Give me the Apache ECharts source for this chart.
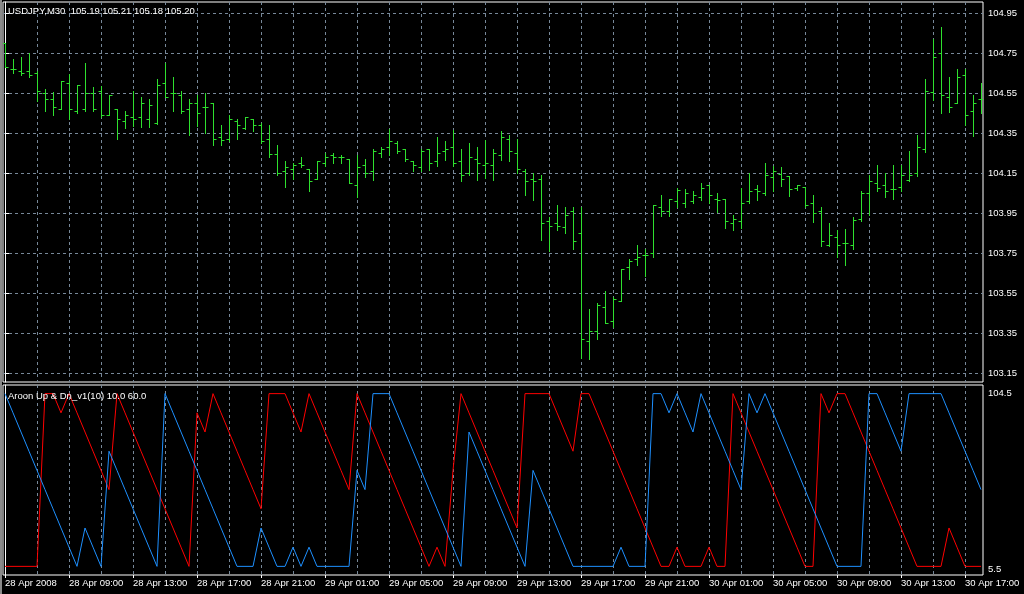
<!DOCTYPE html>
<html>
<head>
<meta charset="utf-8">
<script src="https://cdn.jsdelivr.net/npm/echarts@6/dist/echarts.min.js"></script>
<style>
html,body{margin:0;padding:0;background:#000;}
#c{width:1024px;height:594px;}
</style>
</head>
<body>
<div id="c"></div>
<script>
// ---- Data (USDJPY M30, 28 Apr 2008 05:00 onward, 123 bars) ----
var barOpen = [104.80,104.67,104.66,104.66,104.65,104.55,104.52,104.47,104.60,104.46,104.47,104.55,104.56,104.44,104.47,104.41,104.43,104.43,104.42,104.40,
104.60,104.55,104.54,104.47,104.50,104.48,104.50,104.33,104.32,104.41,104.375,104.42,104.39,104.32,104.245,104.16,104.17,104.20,104.17,104.12,
104.20,104.24,104.23,104.22,104.09,104.19,104.16,104.25,104.28,104.30,104.27,104.21,104.18,104.27,104.21,104.26,104.28,104.21,104.15,104.22,
104.19,104.19,104.24,104.32,104.25,104.16,104.12,104.12,103.91,103.90,103.88,103.96,103.85,103.31,103.36,103.48,103.41,103.51,103.68,103.72,
103.74,103.75,103.98,103.96,104.01,104.00,104.01,104.03,104.09,104.02,104.02,103.90,103.91,104.01,104.07,104.05,104.13,104.145,104.135,104.075,
104.08,104.00,103.96,103.79,103.83,103.80,103.79,103.92,104.05,104.10,104.09,104.07,104.08,104.115,104.15,104.27,104.555,104.75,104.53,104.50,
104.64,104.46,104.52];
var barHigh = [104.80,104.72,104.73,104.75,104.66,104.57,104.555,104.61,104.645,104.59,104.70,104.58,104.585,104.54,104.47,104.46,104.56,104.53,104.52,104.62,
104.70,104.63,104.56,104.52,104.54,104.55,104.50,104.39,104.44,104.42,104.43,104.42,104.40,104.39,104.29,104.21,104.20,104.23,104.17,104.21,
104.25,104.25,104.24,104.22,104.24,104.22,104.27,104.28,104.37,104.31,104.27,104.21,104.27,104.27,104.33,104.31,104.365,104.27,104.30,104.28,
104.315,104.27,104.36,104.34,104.32,104.17,104.15,104.14,103.93,103.99,103.98,103.98,103.98,103.47,103.50,103.56,103.53,103.67,103.72,103.79,
103.77,103.99,104.04,104.02,104.075,104.07,104.06,104.10,104.09,104.05,104.02,103.94,104.075,104.15,104.09,104.20,104.185,104.18,104.135,104.09,
104.08,104.04,103.98,103.90,103.865,103.87,103.93,104.06,104.14,104.19,104.15,104.19,104.19,104.26,104.34,104.62,104.82,104.88,104.63,104.67,
104.67,104.54,104.60];
var barLow = [104.68,104.65,104.64,104.63,104.51,104.46,104.44,104.47,104.42,104.45,104.46,104.46,104.43,104.44,104.32,104.375,104.385,104.38,104.38,104.395,
104.53,104.46,104.45,104.34,104.385,104.35,104.29,104.29,104.31,104.32,104.37,104.36,104.30,104.23,104.14,104.08,104.12,104.18,104.06,104.12,
104.185,104.20,104.20,104.10,104.03,104.13,104.115,104.23,104.24,104.25,104.21,104.16,104.16,104.165,104.185,104.215,104.185,104.11,104.14,104.115,
104.125,104.115,104.215,104.21,104.15,104.04,104.015,103.815,103.76,103.865,103.85,103.77,103.225,103.22,103.32,103.40,103.38,103.51,103.62,103.69,
103.635,103.73,103.935,103.935,103.98,103.98,104.00,104.015,104.00,103.955,103.875,103.865,103.875,104.00,104.015,104.04,104.06,104.085,104.035,104.065,
103.98,103.905,103.785,103.785,103.73,103.69,103.77,103.91,103.94,104.06,104.03,104.02,104.06,104.11,104.135,104.255,104.515,104.45,104.455,104.50,
104.39,104.335,104.45];
var barClose = [104.68,104.67,104.65,104.64,104.56,104.52,104.48,104.61,104.47,104.59,104.55,104.47,104.44,104.54,104.42,104.44,104.42,104.50,104.49,104.59,
104.53,104.55,104.46,104.50,104.45,104.48,104.32,104.315,104.42,104.39,104.43,104.39,104.31,104.245,104.15,104.18,104.19,104.19,104.11,104.21,
104.23,104.23,104.23,104.10,104.18,104.15,104.26,104.27,104.31,104.26,104.22,104.19,104.26,104.20,104.25,104.27,104.20,104.14,104.23,104.20,
104.20,104.25,104.33,104.26,104.17,104.11,104.11,103.90,103.885,103.885,103.94,103.81,103.32,103.36,103.49,103.40,103.52,103.67,103.71,103.73,
103.74,103.99,103.96,104.02,104.065,104.05,104.04,104.075,104.04,104.015,103.91,103.92,104.00,104.06,104.06,104.14,104.16,104.12,104.07,104.09,
103.99,103.95,103.81,103.84,103.79,103.80,103.915,104.05,104.11,104.075,104.06,104.07,104.14,104.14,104.28,104.56,104.73,104.54,104.48,104.63,
104.44,104.50,104.52];

// Aroon(10): Up (blue) and Down (red)
var aroonUp = [100,90,80,70,60,50,40,30,20,10, 30,20,10,70,60,50,40,30,20,10,
100,90,80,70,60,50,40,30,20,10, 10,10,30,20,10,10,20,10,20,10,
10,10,10,10,60,50,100,100,100,90, 80,70,60,50,40,30,20,10,80,70,
60,50,40,30,20,10,60,50,40,30, 20,10,10,10,10,10,10,20,10,10,
10,100,100,90,100,90,80,100,90,80, 70,60,50,100,90,100,90,80,70,60,
50,40,30,20,10,10,10,10,100,100, 90,80,70,100,100,100,100,100,90,80,
70,60,50];
var aroonDown = [10,10,10,10,10,100,100,90,100,90, 80,70,60,50,100,90,80,70,60,50,
40,30,20,10,90,80,100,90,80,70, 60,50,40,100,100,100,90,80,100,90,
80,70,60,50,100,90,80,70,60,50, 40,30,20,10,20,10,60,100,90,80,
70,60,50,40,30,100,100,100,100,90, 80,70,100,100,90,80,70,60,50,40,
30,20,10,10,20,10,10,10,20,10, 10,100,90,80,70,60,50,40,30,20,
10,10,100,90,100,100,90,80,70,60, 50,40,30,20,10,10,10,10,30,20,
10,10,10];

// time axis labels (bar index -> label)
var timeTickBars = [0,8,16,24,32,40,48,56,64,72,80,88,96,104,112,120];
var timeTickLabels = ["28 Apr 2008","28 Apr 09:00","28 Apr 13:00","28 Apr 17:00","28 Apr 21:00",
"29 Apr 01:00","29 Apr 05:00","29 Apr 09:00","29 Apr 13:00","29 Apr 17:00","29 Apr 21:00",
"30 Apr 01:00","30 Apr 05:00","30 Apr 09:00","30 Apr 13:00","30 Apr 17:00"];
var gridBars = [4,8,12,16,20,24,28,32,36,40,44,48,52,56,60,64,68,72,76,80,84,88,92,96,100,104,108,112,116,120];
var priceTicks = [103.15,103.35,103.55,103.75,103.95,104.15,104.35,104.55,104.75,104.95];
var aroonTicks = [5.5,104.5];

var chartTitle = "USDJPY,M30  105.19 105.21 105.18 105.20";
var indTitle = "Aroon Up & Dn_v1(10) 10.0 60.0";

// ---- build ----
var ohlc = [];
for (var i = 0; i < barOpen.length; i++) ohlc.push([i, barOpen[i], barHigh[i], barLow[i], barClose[i]]);
var upData = aroonUp.map(function(v,i){return [i,v];});
var dnData = aroonDown.map(function(v,i){return [i,v];});

var FONT = '"Liberation Sans", Arial, sans-serif';
var GRIDC = '#778899';
var BARC = '#2ee02e';

var chart = echarts.init(document.getElementById('c'), null, {renderer:'canvas'});
chart.setOption({
  backgroundColor:'#000',
  animation:false,
  textStyle:{fontFamily:FONT},
  graphic:[
    {type:'rect', left:0, top:0, shape:{width:2, height:594}, style:{fill:'#8a8a8a'}, silent:true}
  ],
  title:[
    {text:chartTitle, left:8, top:6, padding:0, textStyle:{color:'#fff', fontSize:9.5, fontWeight:'normal', fontFamily:FONT}},
    {text:indTitle, left:8, top:391, padding:0, textStyle:{color:'#fff', fontSize:9.5, fontWeight:'normal', fontFamily:FONT}}
  ],
  grid:[
    {left:3, right:41, top:2, height:380, show:true, borderColor:'#fff', borderWidth:1, backgroundColor:'#000'},
    {left:3, right:41, top:385, height:190, show:true, borderColor:'#fff', borderWidth:1, backgroundColor:'#000'}
  ],
  xAxis:[
    {type:'value', gridIndex:0, min:-0.25, max:122.25,
     axisLine:{show:false}, axisLabel:{show:false},
     axisTick:{show:false, customValues:gridBars},
     splitLine:{show:true, lineStyle:{color:GRIDC, type:[3,3], width:1}}},
    {type:'value', gridIndex:1, min:-0.25, max:122.25,
     axisLine:{show:false}, axisLabel:{show:false},
     axisTick:{show:false, customValues:gridBars},
     splitLine:{show:true, lineStyle:{color:GRIDC, type:[3,3], width:1}}},
    {type:'value', gridIndex:1, min:-0.25, max:122.25, position:'bottom',
     axisLine:{show:false},
     axisTick:{show:true, inside:false, length:3, lineStyle:{color:'#fff'}, customValues:timeTickBars},
     axisLabel:{show:true, color:'#fff', fontSize:9.5, fontFamily:FONT, align:'left', margin:3,
       customValues:timeTickBars,
       formatter:function(v){var k=timeTickBars.indexOf(Math.round(v)); return k>=0?timeTickLabels[k]:'';}},
     splitLine:{show:false}}
  ],
  yAxis:[
    {type:'value', gridIndex:0, position:'right', min:103.105, max:105.005, scale:true,
     axisLine:{show:true, lineStyle:{color:'#fff'}},
     axisTick:{show:true, length:4, lineStyle:{color:'#fff'}, customValues:priceTicks},
     axisLabel:{show:true, color:'#fff', fontSize:9.5, fontFamily:FONT, margin:5, customValues:priceTicks,
       formatter:function(v){return v.toFixed(2);}},
     splitLine:{show:true, lineStyle:{color:GRIDC, type:[3,3], width:1}}},
    {type:'value', gridIndex:1, position:'right', min:5.5, max:104.5,
     axisLine:{show:true, lineStyle:{color:'#fff'}},
     axisTick:{show:false, customValues:aroonTicks},
     axisLabel:{show:true, color:'#fff', fontSize:9.5, fontFamily:FONT, margin:5, customValues:aroonTicks,
       formatter:function(v){return v>50?'{t|'+v.toFixed(1)+'}':'{b|'+v.toFixed(1)+'}';},
       rich:{t:{color:'#fff',fontSize:9.5,fontFamily:FONT,padding:[16,0,0,0]}, b:{color:'#fff',fontSize:9.5,fontFamily:FONT,padding:[0,0,12,0]}}},
     splitLine:{show:false}}
  ],
  series:[
    {type:'custom', xAxisIndex:0, yAxisIndex:0, clip:true, silent:true,
     data:ohlc, encode:{x:0, y:[1,2,3,4]},
     renderItem:function(params, api){
       var x = Math.round(api.coord([api.value(0), 0])[0]) + 0.5;
       var yO = Math.round(api.coord([0, api.value(1)])[1]) + 0.5;
       var yH = Math.round(api.coord([0, api.value(2)])[1]);
       var yL = Math.round(api.coord([0, api.value(3)])[1]) + 1;
       var yC = Math.round(api.coord([0, api.value(4)])[1]) + 0.5;
       var st = {stroke:BARC, lineWidth:1};
       return {type:'group', children:[
         {type:'line', shape:{x1:x, y1:yH, x2:x, y2:yL}, style:st},
         {type:'line', shape:{x1:x-3, y1:yO, x2:x, y2:yO}, style:st},
         {type:'line', shape:{x1:x, y1:yC, x2:x+3, y2:yC}, style:st}
       ]};
     }},
    {type:'line', name:'Aroon Down', xAxisIndex:1, yAxisIndex:1, data:dnData, symbol:'none', silent:true,
     lineStyle:{color:'#ff0000', width:1}, clip:true},
    {type:'line', name:'Aroon Up', xAxisIndex:1, yAxisIndex:1, data:upData, symbol:'none', silent:true,
     lineStyle:{color:'#1e90ff', width:1}, clip:true}
  ]
});
</script>
</body>
</html>
